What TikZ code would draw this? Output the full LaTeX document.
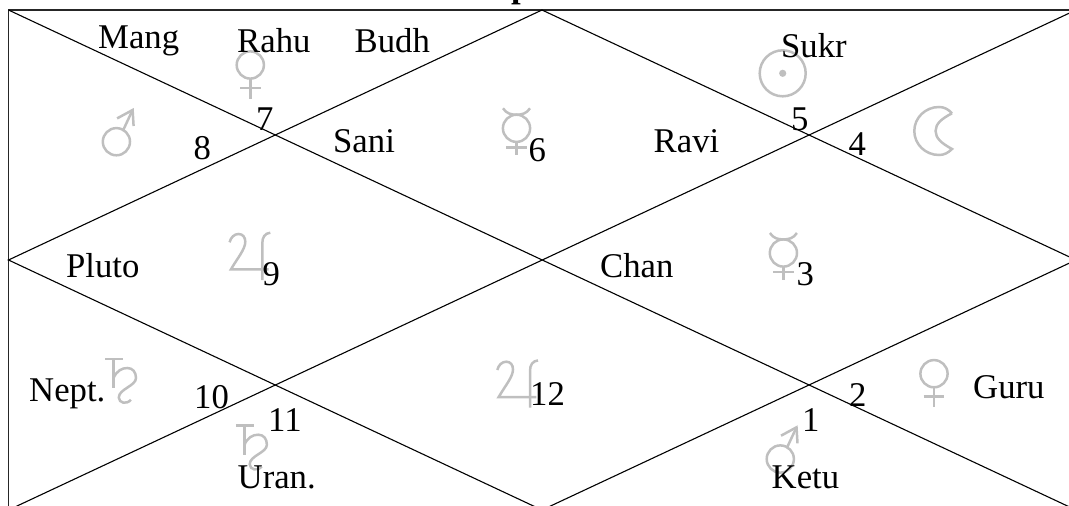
\documentclass[tikz,border=0pt]{standalone}
\usepackage{fontspec}
\setmainfont{Liberation Serif}
\usepackage{tikz}
\definecolor{glyphgray}{gray}{0.75}
\tikzset{
  house/.style={line width=1.1pt},
  chartframe/.style={line width=1.4pt,draw=black!85},
  planet/.style={inner sep=0pt,anchor=base west,font=\fontsize{34.7}{36}\selectfont},
  glyphline/.style={draw=glyphgray,line width=2.5pt},
  marsglyph/.pic={
    \draw[glyphline] (0,0) circle[radius=13.6];
    \draw[glyphline] (7,-12) -- (16.2,-31.7);
    \draw[glyphline] (0.7,-23.3) -- (16.2,-31.7) -- (17.2,-15.7);
  },
  venusglyph/.pic={
    \draw[glyphline] (0,0) circle[radius=13.6];
    \draw[glyphline] (0,13.6) -- (0,33.5);
    \draw[glyphline] (-10.3,23) -- (10.3,23);
  },
  mercuryglyph/.pic={
    \draw[glyphline] (0,0) circle[radius=13.6];
    \draw[glyphline] (-13.5,-20) .. controls (-10,-14.5) and (-5,-13.6) .. (0,-13.6) .. controls (5,-13.6) and (10,-14.5) .. (13.5,-20);
    \draw[glyphline] (0,13.6) -- (0,26.7);
    \draw[glyphline] (-10.3,19) -- (10.3,19);
  },
  sunglyph/.pic={
    \draw[glyphline] (0,0) circle[radius=23];
    \fill[glyphgray] (0,0) circle[radius=3.6];
  },
  moonglyph/.pic={
    \draw[glyphline] (13,-17.7) .. controls (9,-22) and (5,-24) .. (0,-24) .. controls (-13.6,-24) and (-24.7,-13.25) .. (-24.7,0) .. controls (-24.7,13.25) and (-13.6,24) .. (0,24) .. controls (5,24) and (9,22) .. (13,18) .. controls (2,12) and (-3.4,7) .. (-3.4,0) .. controls (-3.4,-7) and (2,-12) .. (13,-17.7);
  },
  jupiterglyph/.pic={
    \draw[glyphline] (0.3,-27) .. controls (1.5,-32) and (5,-35.3) .. (9.3,-35.3) .. controls (13.5,-35.3) and (16,-32) .. (16,-27.6) .. controls (16,-20) and (8,-11) .. (1.7,0) -- (39.3,0);
    \draw[glyphline] (33,10.7) -- (33,-26) .. controls (33,-32) and (35.5,-36) .. (41,-36.6);
  },
  saturnglyph/.pic={
    \draw[glyphline] (-8.6,0) -- (9.4,0);
    \draw[glyphline] (0,0) -- (0,29);
    \draw[glyphline] (0,19) .. controls (3,12) and (8,9) .. (13.8,9) .. controls (19,9) and (22.4,13) .. (22.4,19) .. controls (22.4,27) and (5.2,30) .. (5.2,38.5) .. controls (5.2,44) and (13,46) .. (17.3,40.7);
  }
}
\begin{document}
\begin{tikzpicture}[x=1pt,y=-1pt]
      \useasboundingbox (0,0) rectangle (1069,506);
      \clip (0,0) rectangle (1069,506);
      \coordinate (tl) at (8.5,10);
      \coordinate (tr) at (1076,10);
      \coordinate (bl) at (8.5,510);
      \coordinate (br) at (1076,510);
      \coordinate (tm) at (542,10);
      \coordinate (lm) at (8.5,260);
      \coordinate (rm) at (1076,260);
      \coordinate (bm) at (542,510);
      % Signs
      \pic at (116.4,141.7) {marsglyph};
      \pic at (250.3,65) {venusglyph};
      \pic at (516.5,128.3) {mercuryglyph};
      \pic at (782.7,73.3) {sunglyph};
      \pic at (939,131) {moonglyph};
      \pic at (229.3,269.3) {jupiterglyph};
      \pic at (783.4,253) {mercuryglyph};
      \pic at (113.6,359) {saturnglyph};
      \pic at (497,397) {jupiterglyph};
      \pic at (244.5,425.7) {saturnglyph};
      \pic at (780.3,459) {marsglyph};
      \pic at (934,373.7) {venusglyph};
      % Frame
      \draw[chartframe] (tl) rectangle (br);
      \draw[house] (tl) -- (br);
      \draw[house] (bl) -- (tr);
      \draw[house] (tm) -- (lm) -- (bm) -- (rm) -- cycle;
      % Title
      \node[planet,font=\bfseries\fontsize{34.7}{36}\selectfont] (title) at (511,-2.5) {p};
      % Planets
      \node[planet] (mang) at (98,48) {Mang};
      \node[planet] (rahu) at (237,52.7) {Rahu};
      \node[planet] (budh) at (354.5,52.7) {Budh};
      \node[planet] (sukr) at (781,57.5) {Sukr};
      \node[planet] (sani) at (333,152.7) {Sani};
      \node[planet] (ravi) at (653.5,152.7) {Ravi};
      \node[planet] (pluto) at (66,277.7) {Pluto};
      \node[planet] (chan) at (600,277.7) {Chan};
      \node[planet] (nept) at (29,401) {Nept.};
      \node[planet] (guru) at (973,398) {Guru};
      \node[planet] (uran) at (237.5,488.3) {Uran.};
      \node[planet] (ketu) at (771.5,488.3) {Ketu};
      % House numbers
      \node[planet] (num7) at (256,130) {7};
      \node[planet] (num8) at (193.5,159) {8};
      \node[planet] (num6) at (528.5,161) {6};
      \node[planet] (num5) at (791,130.5) {5};
      \node[planet] (num4) at (848.5,155) {4};
      \node[planet] (num9) at (262.5,285.7) {9};
      \node[planet] (num3) at (796.5,285.3) {3};
      \node[planet] (num10) at (194,408.5) {10};
      \node[planet] (num11) at (268,431.5) {11};
      \node[planet] (num12) at (530,405.7) {12};
      \node[planet] (num2) at (849,406) {2};
      \node[planet] (num1) at (802,431) {1};
    \end{tikzpicture}
\end{document}
